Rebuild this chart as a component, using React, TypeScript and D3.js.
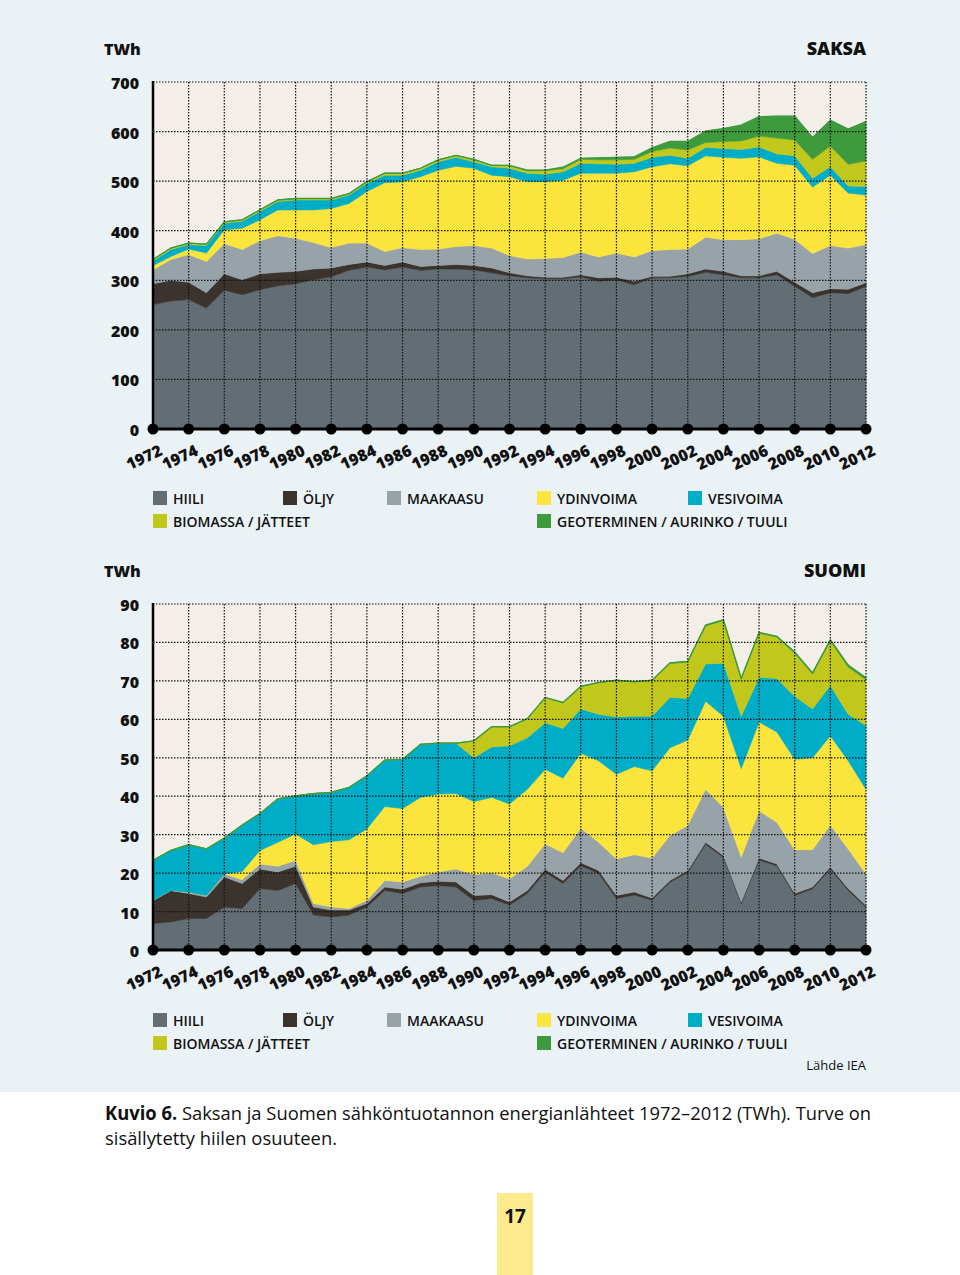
import React from 'react';
import * as d3 from 'd3';

// vuodet ja akselin merkinnät
const years = [
  1972, 1973, 1974, 1975, 1976, 1977, 1978, 1979, 1980, 1981, 1982, 1983, 1984, 1985,
  1986, 1987, 1988, 1989, 1990, 1991, 1992, 1993, 1994, 1995, 1996, 1997, 1998, 1999,
  2000, 2001, 2002, 2003, 2004, 2005, 2006, 2007, 2008, 2009, 2010, 2011, 2012,
];
const yearTicks = [
  1972, 1974, 1976, 1978, 1980, 1982, 1984, 1986, 1988, 1990, 1992, 1994, 1996, 1998,
  2000, 2002, 2004, 2006, 2008, 2010, 2012,
];
const deTicks = [0, 100, 200, 300, 400, 500, 600, 700];
const fiTicks = [0, 10, 20, 30, 40, 50, 60, 70, 80, 90];

const keys = ['hiili', 'oljy', 'maakaasu', 'ydinvoima', 'vesivoima', 'biomassa', 'geo'];
const labels = ['HIILI', 'ÖLJY', 'MAAKAASU', 'YDINVOIMA', 'VESIVOIMA', 'BIOMASSA / JÄTTEET', 'GEOTERMINEN / AURINKO / TUULI'];
const colors = ['#636e74', '#3a332e', '#98a2a9', '#fbe53d', '#00adc7', '#c2c81b', '#3d9b3d'];

// Saksa, TWh
const deHiili = [251, 258, 261, 244, 280, 271, 281, 289, 293, 301, 307, 320, 327, 321, 327, 320, 323, 323, 321, 315, 309, 305, 303, 303, 307, 298, 301, 291, 305, 305, 308, 316, 311, 305, 305, 311, 288, 265, 275, 273, 288];
const deOljy = [42, 42, 35, 31, 33, 30, 32, 27, 25, 22, 18, 12, 10, 9, 10, 8, 7, 9, 9, 10, 6, 4, 3, 3, 4, 7, 5, 7, 3, 3, 5, 7, 7, 4, 4, 7, 8, 10, 8, 9, 7];
const deMaakaasu = [28, 42, 56, 63, 61, 61, 67, 74, 67, 53, 41, 43, 38, 28, 29, 34, 33, 36, 40, 40, 35, 34, 38, 40, 46, 42, 49, 49, 52, 54, 50, 64, 64, 73, 75, 77, 87, 79, 87, 83, 77];
const deYdin = [9, 6, 11, 17, 28, 43, 42, 52, 57, 66, 79, 80, 104, 139, 133, 147, 159, 162, 156, 147, 159, 156, 155, 156, 159, 169, 161, 172, 169, 173, 168, 164, 166, 164, 165, 141, 149, 134, 142, 111, 100];
const deVesi = [9, 14, 9, 15, 13, 14, 17, 17, 20, 20, 17, 17, 17, 15, 13, 13, 17, 18, 13, 17, 17, 17, 15, 17, 20, 19, 18, 17, 19, 17, 15, 17, 18, 18, 20, 19, 19, 18, 17, 14, 17];
const deBio = [3, 3, 3, 3, 3, 3, 3, 3, 3, 3, 3, 3, 3, 4, 4, 4, 4, 4, 4, 3, 5, 5, 7, 6, 8, 8, 9, 8, 12, 15, 17, 10, 14, 17, 22, 32, 32, 38, 42, 44, 52];
const deGeo = [0, 0, 0, 0, 0, 0, 0, 0, 0, 0, 0, 0, 0, 0, 0, 0, 0, 0, 1, 0, 1, 1, 1, 3, 2, 4, 5, 5, 7, 13, 17, 23, 26, 32, 39, 44, 48, 44, 52, 71, 79];

// Suomi, TWh
const fiHiili = [6.9, 7.3, 8.2, 8.2, 11.2, 10.8, 16.0, 15.5, 17.3, 9.1, 8.6, 9.1, 11.2, 15.5, 14.7, 16.4, 16.8, 16.4, 12.9, 13.4, 11.7, 14.7, 20.2, 17.3, 21.9, 19.9, 13.4, 14.3, 13.0, 17.6, 20.2, 27.5, 24.1, 12.0, 23.4, 21.9, 14.2, 15.9, 21.1, 15.5, 11.1];
const fiOljy = [6.0, 8.2, 6.5, 5.6, 7.8, 6.5, 5.1, 4.8, 4.5, 2.1, 1.8, 1.3, 0.9, 0.9, 1.1, 1.1, 1.1, 1.3, 1.3, 1.0, 0.8, 0.8, 0.8, 0.8, 0.8, 0.8, 0.8, 0.8, 0.5, 0.5, 0.5, 0.5, 0.5, 0.5, 0.5, 0.5, 0.5, 0.5, 0.5, 0.5, 0.5];
const fiMaakaasu = [0, 0, 0.3, 0.4, 0.8, 1.0, 1.3, 1.5, 1.5, 0.9, 0.8, 0.4, 0.8, 1.7, 1.9, 1.7, 2.4, 3.4, 5.4, 5.7, 6.0, 6.3, 6.6, 7.2, 9.0, 7.3, 9.5, 9.7, 10.4, 11.7, 11.7, 13.8, 12.5, 11.7, 12.3, 10.8, 11.4, 9.7, 10.9, 10.3, 8.2];
const fiYdin = [0, 0, 0, 0, 0, 2.1, 3.5, 6.2, 6.9, 15.3, 17.0, 17.9, 18.6, 19.2, 19.1, 20.5, 20.3, 19.6, 19.0, 19.6, 19.5, 20.0, 19.4, 19.4, 19.5, 21.2, 22.0, 22.9, 22.7, 22.8, 22.2, 22.9, 23.7, 23.0, 23.1, 23.5, 23.5, 23.9, 23.2, 22.9, 22.0];
const fiVesi = [10.4, 10.4, 12.4, 12.1, 9.3, 12.1, 9.6, 11.3, 9.9, 13.3, 12.8, 13.6, 13.8, 12.1, 12.8, 13.8, 13.2, 13.1, 11.4, 13.1, 15.1, 13.4, 12.1, 12.9, 11.5, 12.1, 14.9, 13.1, 14.2, 13.1, 10.8, 9.7, 13.8, 13.6, 11.6, 13.9, 16.4, 12.7, 13.1, 12.1, 16.6];
const fiBio = [0, 0, 0, 0, 0, 0, 0, 0, 0, 0, 0, 0, 0, 0, 0, 0, 0, 0, 4.4, 5.2, 4.9, 4.9, 6.5, 6.7, 5.8, 8.2, 9.5, 8.9, 9.3, 8.8, 9.5, 9.9, 11.1, 9.7, 11.5, 10.8, 11.2, 9.1, 11.6, 12.3, 11.9];
const fiGeo = [0, 0, 0, 0, 0, 0, 0, 0, 0, 0, 0, 0, 0, 0, 0, 0, 0, 0, 0, 0.1, 0.1, 0.1, 0.1, 0.1, 0.1, 0.1, 0.1, 0.1, 0.1, 0.2, 0.2, 0.2, 0.2, 0.2, 0.2, 0.2, 0.3, 0.3, 0.3, 0.5, 0.5];

const font = "'Open Sans', 'DejaVu Sans', sans-serif";

type Row = { year: number; [k: string]: number };

const x = d3.scaleLinear().domain([1972, 2012]).range([153, 866]);

type ChartProps = {
  top: number;
  bottom: number;
  yMax: number;
  ticks: number[];
  title: string;
  series: number[][];
  legendY: number;
};

const StackChart: React.FC<ChartProps> = ({ top, bottom, yMax, ticks, title, series, legendY }) => {
  const y = d3.scaleLinear().domain([0, yMax]).range([bottom, top]);
  const rows: Row[] = years.map((yr, i) => {
    const r: Row = { year: yr };
    keys.forEach((k, j) => (r[k] = series[j][i]));
    return r;
  });
  const stacked = d3.stack<Row>().keys(keys)(rows);
  const area = d3
    .area<d3.SeriesPoint<Row>>()
    .x((d) => x(d.data.year))
    .y0((d) => y(d[0]))
    .y1((d) => y(d[1]));
  const topLine = d3
    .line<d3.SeriesPoint<Row>>()
    .x((d) => x(d.data.year))
    .y((d) => y(d[1]));

  const legendCols = [153, 283, 387, 537, 688, 153, 537];
  const legendRows = [0, 0, 0, 0, 0, 1, 1];

  return (
    <g>
      <rect x={x(1972)} y={top} width={x(2012) - x(1972)} height={bottom - top} fill="#f3eee8" />
      {stacked.map((s, i) => (
        <path key={s.key} d={area(s) || ''} fill={colors[i]} stroke={colors[i]} strokeWidth={0.6} />
      ))}
      <path d={topLine(stacked[stacked.length - 1]) || ''} fill="none" stroke={colors[6]} strokeWidth={1.3} />
      {/* katkoviivaruudukko */}
      {ticks.filter((t) => t > 0).map((t) => (
        <line key={'h' + t} x1={x(1972)} x2={x(2012)} y1={y(t)} y2={y(t)} stroke="#111" strokeWidth={1.2} strokeDasharray="1.5 1.5" />
      ))}
      {yearTicks.filter((t) => t > 1972).map((t) => (
        <line key={'v' + t} x1={x(t)} x2={x(t)} y1={top} y2={bottom} stroke="#111" strokeWidth={1.2} strokeDasharray="1.5 1.5" />
      ))}
      <line x1={x(1972)} x2={x(1972)} y1={top - 1} y2={bottom} stroke="#000" strokeWidth={2.5} />
      <line x1={x(1972)} x2={x(2012)} y1={bottom} y2={bottom} stroke="#000" strokeWidth={3} />
      {yearTicks.map((t) => (
        <circle key={'c' + t} cx={x(t)} cy={bottom} r={5.5} fill="#000" />
      ))}
      {ticks.map((t) => (
        <text key={'yl' + t} x={139} y={y(t) + 1} textAnchor="end" dominantBaseline="central" fontFamily={font} fontWeight={800} fontSize={16} fill="#111">
          {t}
        </text>
      ))}
      {yearTicks.map((t) => (
        <text
          key={'xl' + t}
          transform={`translate(${x(t) - 9},${bottom + 28}) rotate(-25)`}
          textAnchor="middle"
          dominantBaseline="central"
          fontFamily={font}
          fontWeight={800}
          fontSize={16}
          fill="#111"
        >
          {t}
        </text>
      ))}
      <text x={104} y={top - 27} fontFamily={font} fontWeight={800} fontSize={16} fill="#111">
        TWh
      </text>
      <text x={866} y={top - 27} textAnchor="end" fontFamily={font} fontWeight={800} fontSize={18} fill="#111">
        {title}
      </text>
      {labels.map((l, i) => (
        <g key={l} transform={`translate(${legendCols[i]},${legendY + legendRows[i] * 23})`}>
          <rect x={0} y={-7} width={14} height={14} fill={colors[i]} />
          <text x={20} y={0.5} dominantBaseline="central" fontFamily={font} fontWeight={600} fontSize={14} fill="#111">
            {l}
          </text>
        </g>
      ))}
    </g>
  );
};

const App: React.FC = () => {
  return (
    <svg width={960} height={1275} style={{ position: 'absolute', left: 0, top: 0 }}>
      <rect x={0} y={0} width={960} height={1275} fill="#fff" />
      <rect x={0} y={0} width={960} height={1092} fill="#eaf2f6" />
      <StackChart
        top={82}
        bottom={429}
        yMax={700}
        ticks={deTicks}
        title="SAKSA"
        series={[deHiili, deOljy, deMaakaasu, deYdin, deVesi, deBio, deGeo]}
        legendY={498}
      />
      <StackChart
        top={604}
        bottom={950}
        yMax={90}
        ticks={fiTicks}
        title="SUOMI"
        series={[fiHiili, fiOljy, fiMaakaasu, fiYdin, fiVesi, fiBio, fiGeo]}
        legendY={1020}
      />
      <text x={866} y={1070} textAnchor="end" fontFamily={font} fontSize={13} fill="#111">
        Lähde IEA
      </text>
      <text x={105} y={1120} fontFamily={font} fontSize={19} fill="#111" textLength={766} lengthAdjust="spacingAndGlyphs">
        <tspan fontWeight={700}>Kuvio 6.</tspan> Saksan ja Suomen sähköntuotannon energianlähteet 1972–2012 (TWh). Turve on
      </text>
      <text x={105} y={1145} fontFamily={font} fontSize={19} fill="#111" textLength={232} lengthAdjust="spacingAndGlyphs">
        sisällytetty hiilen osuuteen.
      </text>
      <rect x={497} y={1193} width={36} height={82} fill="#fde98e" />
      <text x={515} y={1216} textAnchor="middle" dominantBaseline="central" fontFamily={font} fontWeight={700} fontSize={19} fill="#111">
        17
      </text>
    </svg>
  );
};

export default App;
